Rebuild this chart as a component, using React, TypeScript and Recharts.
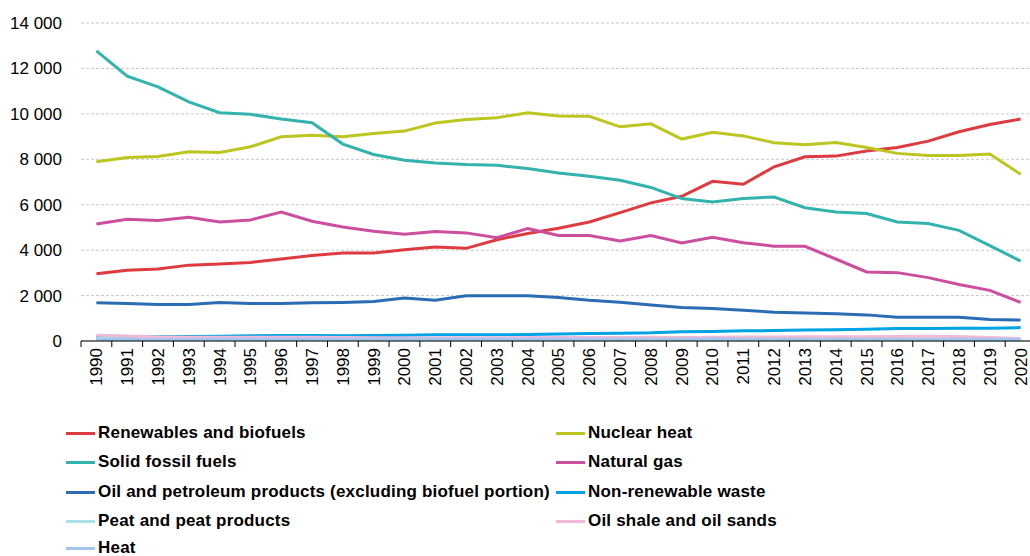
import React from 'react'
import { LineChart, Line, XAxis, YAxis, CartesianGrid, Legend } from 'recharts'

const YEARS = [
  '1990', '1991', '1992', '1993', '1994', '1995', '1996', '1997', '1998', '1999', '2000',
  '2001', '2002', '2003', '2004', '2005', '2006', '2007', '2008', '2009', '2010',
  '2011', '2012', '2013', '2014', '2015', '2016', '2017', '2018', '2019', '2020',
]

const RENEWABLES = [2960, 3110, 3170, 3340, 3390, 3460, 3610, 3760, 3870, 3870, 4020, 4140, 4080, 4460, 4730, 4960, 5240, 5650, 6080, 6370, 7030, 6900, 7670, 8110, 8140, 8360, 8520, 8800, 9210, 9530, 9770]
const NUCLEAR = [7890, 8080, 8120, 8330, 8300, 8550, 8990, 9060, 8990, 9140, 9240, 9600, 9750, 9830, 10050, 9910, 9890, 9430, 9560, 8890, 9190, 9030, 8730, 8640, 8740, 8520, 8260, 8170, 8170, 8230, 7340]
const SOLID = [12770, 11660, 11190, 10530, 10050, 9980, 9770, 9610, 8670, 8210, 7960, 7840, 7770, 7740, 7590, 7400, 7250, 7080, 6760, 6270, 6120, 6270, 6340, 5870, 5680, 5610, 5240, 5170, 4870, 4200, 3520]
const GAS = [5150, 5360, 5300, 5450, 5240, 5330, 5680, 5270, 5020, 4830, 4700, 4820, 4760, 4550, 4950, 4650, 4640, 4400, 4640, 4320, 4570, 4330, 4170, 4170, 3610, 3040, 3010, 2790, 2490, 2230, 1700]
const OIL = [1680, 1650, 1610, 1610, 1700, 1650, 1650, 1680, 1700, 1740, 1890, 1790, 1990, 1990, 1990, 1910, 1790, 1710, 1580, 1480, 1430, 1350, 1270, 1230, 1200, 1150, 1050, 1050, 1050, 950, 920]
const WASTE = [170, 180, 190, 200, 210, 230, 240, 240, 230, 240, 250, 270, 280, 270, 290, 310, 330, 340, 360, 410, 420, 450, 460, 480, 490, 520, 550, 550, 560, 560, 590]
const PEAT = [110, 100, 95, 90, 90, 85, 85, 80, 80, 75, 75, 70, 70, 70, 65, 65, 65, 60, 60, 55, 60, 55, 55, 55, 50, 50, 50, 50, 45, 40, 40]
const OIL_SHALE = [250, 220, 180, 170, 160, 160, 160, 160, 150, 140, 130, 130, 140, 140, 150, 150, 150, 150, 160, 150, 170, 180, 180, 190, 190, 190, 200, 210, 200, 150, 110]
const HEAT = [70, 70, 70, 70, 75, 75, 75, 75, 75, 75, 80, 80, 80, 80, 80, 80, 80, 80, 80, 80, 85, 80, 80, 80, 80, 80, 80, 80, 80, 80, 80]

const Y_TICKS = [0, 2000, 4000, 6000, 8000, 10000, 12000, 14000]

const SERIES = [
  { key: 'renewables', name: 'Renewables and biofuels', values: RENEWABLES, color: '#de3b3f' },
  { key: 'nuclear', name: 'Nuclear heat', values: NUCLEAR, color: '#bdc520' },
  { key: 'solid', name: 'Solid fossil fuels', values: SOLID, color: '#33b3ae' },
  { key: 'gas', name: 'Natural gas', values: GAS, color: '#cc4e9e' },
  { key: 'oil', name: 'Oil and petroleum products (excluding biofuel portion)', values: OIL, color: '#2b6cb5' },
  { key: 'waste', name: 'Non-renewable waste', values: WASTE, color: '#00a3e3' },
  { key: 'peat', name: 'Peat and peat products', values: PEAT, color: '#a6e4e6' },
  { key: 'shale', name: 'Oil shale and oil sands', values: OIL_SHALE, color: '#f2b8d8' },
  { key: 'heat', name: 'Heat', values: HEAT, color: '#a2c6ec' },
]

const data = YEARS.map((year, i) => {
  const row: Record<string, string | number> = { year }
  SERIES.forEach(s => { row[s.key] = s.values[i] })
  return row
})

const FONT = '"Liberation Sans", Arial, sans-serif'
const STEP = 30.8 // category width in px

const fmt = (v: number) => String(v).replace(/\B(?=(\d{3})+(?!\d))/g, ' ')

function YearTick(props: any) {
  const { x, y, payload, index } = props
  return (
    <g transform={`translate(${x},${y})`}>
      <line x1={-STEP / 2} y1={0} x2={-STEP / 2} y2={6} stroke="#000" />
      {index === YEARS.length - 1 && <line x1={STEP / 2} y1={0} x2={STEP / 2} y2={6} stroke="#000" />}
      <text transform="rotate(-90)" x={-7} y={0} dy="0.35em" textAnchor="end" fontSize={17} fill="#000" fontFamily={FONT}>
        {payload.value}
      </text>
    </g>
  )
}

function LegendBox() {
  const rows = [17, 46, 76, 105, 132]
  return (
    <div style={{ position: 'relative', width: 1030, height: 140, fontFamily: FONT }}>
      {SERIES.map((s, i) => (
        <div
          key={s.key}
          style={{
            position: 'absolute',
            left: i % 2 === 0 ? 66 : 556,
            top: rows[Math.floor(i / 2)] - 10,
            height: 20,
            display: 'flex',
            alignItems: 'center',
            whiteSpace: 'nowrap',
          }}
        >
          <span style={{ display: 'inline-block', width: 29, height: 3, background: s.color }} />
          <span style={{ marginLeft: 3, fontSize: 17, letterSpacing: 0.2, fontWeight: 'bold', color: '#000' }}>{s.name}</span>
        </div>
      ))}
    </div>
  )
}

export default function App() {
  return (
    <div style={{ position: 'absolute', left: 0, top: 0, width: 1030, height: 556, overflow: 'hidden', background: '#fff' }}>
      <LineChart width={1040} height={556} data={data} margin={{ top: 23, right: 4, left: 0, bottom: 0 }}>
        <CartesianGrid vertical={false} stroke="#c8c8c8" strokeDasharray="3 2" />
        <XAxis
          dataKey="year"
          height={75}
          interval={0}
          padding={{ left: STEP / 2, right: STEP / 2 }}
          tickSize={0}
          tickMargin={0}
          tickLine={false}
          axisLine={{ stroke: '#000' }}
          tick={<YearTick />}
        />
        <YAxis
          width={81}
          domain={[0, 14000]}
          ticks={Y_TICKS}
          axisLine={false}
          tickLine={false}
          tickMargin={13}
          tickFormatter={fmt}
          tick={{ fontSize: 17, fill: '#000', fontFamily: FONT }}
        />
        <Legend verticalAlign="bottom" height={140} wrapperStyle={{ left: 0, width: 1030 }} content={() => <LegendBox />} />
        {SERIES.map(s => (
          <Line
            key={s.key}
            type="linear"
            dataKey={s.key}
            name={s.name}
            stroke={s.color}
            strokeWidth={3}
            dot={false}
            isAnimationActive={false}
          />
        ))}
      </LineChart>
    </div>
  )
}
